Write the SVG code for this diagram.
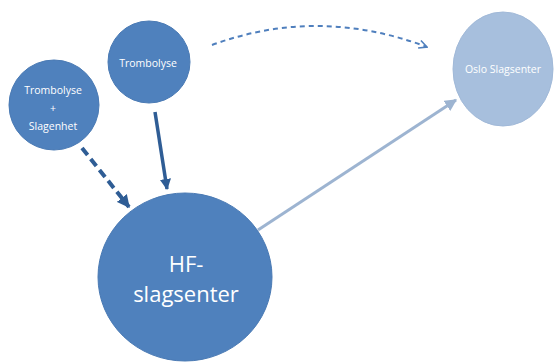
<svg xmlns="http://www.w3.org/2000/svg" width="555" height="362" viewBox="0 0 555 362">
  <defs>
    <style>
      .node { fill: #4f81bd; stroke: #4a7ab4; stroke-width: 1; }
      .node-light { fill: #a7bfdd; stroke: #a1b9d8; stroke-width: 1; }
      .label { fill: #ffffff; font-family: "Open Sans", "Liberation Sans", sans-serif; text-anchor: middle; dominant-baseline: central; }
      .small { font-size: 10.5px; }
      .big { font-size: 22px; }
      .conn { fill: none; stroke-linecap: butt; }
    </style>
    <marker id="head-dark" viewBox="0 0 10 10" refX="9" refY="5" markerWidth="3.2" markerHeight="3.4" orient="auto" markerUnits="strokeWidth">
      <path d="M0,0 L10,5 L0,10 z" fill="#2f5d95"/>
    </marker>
    <marker id="head-light" viewBox="0 0 10 10" refX="9" refY="5" markerWidth="4" markerHeight="4" orient="auto" markerUnits="strokeWidth">
      <path d="M0,0 L10,5 L0,10 z" fill="#9db4d1"/>
    </marker>
    <marker id="head-open" viewBox="0 0 10 10" refX="9" refY="5" markerWidth="5" markerHeight="5" orient="auto" markerUnits="strokeWidth">
      <path d="M1,1 L9,5 L1,9" fill="none" stroke="#4f7fbd" stroke-width="1.6"/>
    </marker>
  </defs>

  <rect width="555" height="362" fill="#ffffff"/>

  <!-- connectors -->
  <g id="connectors">
    <line class="conn" x1="82" y1="148" x2="129" y2="207" stroke="#2f5d95" stroke-width="4" stroke-dasharray="9,5" marker-end="url(#head-dark)"/>
    <line class="conn" x1="155" y1="112" x2="167" y2="189" stroke="#2f5d95" stroke-width="3.5" marker-end="url(#head-dark)"/>
    <line class="conn" x1="258" y1="230" x2="456" y2="100" stroke="#9db4d1" stroke-width="3" marker-end="url(#head-light)"/>
    <path class="conn" d="M212,45 Q318,6 427,47" stroke="#4f7fbd" stroke-width="2" stroke-dasharray="5,4" marker-end="url(#head-open)"/>
  </g>

  <!-- nodes -->
  <g id="node-trombolyse-slagenhet">
    <ellipse class="node" cx="54" cy="105" rx="45" ry="45"/>
    <text class="label small" x="53" y="90">Trombolyse</text>
    <text class="label small" x="53" y="108">+</text>
    <text class="label small" x="53" y="126">Slagenhet</text>
  </g>

  <g id="node-trombolyse">
    <ellipse class="node" cx="149" cy="62" rx="41" ry="41"/>
    <text class="label small" x="148" y="63">Trombolyse</text>
  </g>

  <g id="node-oslo">
    <ellipse class="node-light" cx="503" cy="69" rx="50" ry="57"/>
    <text class="label small" x="503" y="69">Oslo Slagsenter</text>
  </g>

  <g id="node-hf">
    <ellipse class="node" cx="185" cy="277" rx="87" ry="84"/>
    <text class="label big" x="186" y="263">HF-</text>
    <text class="label big" x="186" y="293">slagsenter</text>
  </g>
</svg>
